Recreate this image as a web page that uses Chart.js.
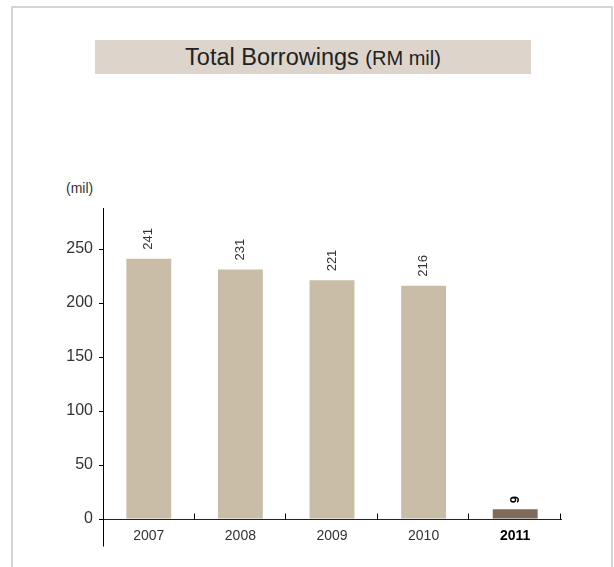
<!DOCTYPE html>
<html>
<head>
<meta charset="utf-8">
<script src="https://cdn.jsdelivr.net/npm/chart.js@4"></script>
<style>
  body { margin: 0; background: #fff; font-family: "Liberation Sans", Arial, sans-serif; }
  #wrap { position: relative; width: 614px; height: 567px; overflow: hidden; }
  #frame { position: absolute; left: 11px; top: 6px; width: 598px; height: 620px; border: 2px solid #d8d4ce; }
  #title { position: absolute; left: 95px; top: 40px; width: 436px; height: 34px; background: #ddd5cc;
           text-align: center; line-height: 34px; color: #222; font-size: 23.5px; }
  #title small { font-size: 20px; }
  #unit { position: absolute; left: 66px; top: 180px; font-size: 14px; color: #333; }
  #chart { position: absolute; left: 0; top: 0; }
</style>
</head>
<body>
<div id="wrap">
  <div id="frame"></div>
  <div id="title">Total Borrowings <small>(RM mil)</small></div>
  <div id="unit">(mil)</div>
  <canvas id="chart" width="614" height="567"></canvas>
</div>
<script>
const years = ['2007', '2008', '2009', '2010', '2011'];
const borrowings = [241, 231, 221, 216, 9];
const barColors = ['#c9bda8', '#c9bda8', '#c9bda8', '#c9bda8', '#7e6b5b'];
const yTicks = [0, 50, 100, 150, 200, 250];

const FONT = '"Liberation Sans", Arial, sans-serif';

// rotated value labels, upward boundary ticks, y axis stub below zero
const extras = {
    id: 'extras',
    afterDraw(chart) {
        const ctx = chart.ctx;
        const area = chart.chartArea;
        const xs = chart.scales.x;
        const ax = Math.floor(area.left) + 0.5;
        const by = Math.round(area.bottom) + 0.5;
        ctx.save();
        ctx.strokeStyle = '#000';
        ctx.lineWidth = 1;
        ctx.beginPath();
        ctx.moveTo(ax, by);
        ctx.lineTo(ax, by + 27);
        const half = (xs.getPixelForValue(1) - xs.getPixelForValue(0)) / 2;
        for (let i = 0; i < years.length; i++) {
            const bx = Math.round(xs.getPixelForValue(i) + half) - 0.5;
            ctx.moveTo(bx, by);
            ctx.lineTo(bx, by - 6);
        }
        ctx.stroke();

        const meta = chart.getDatasetMeta(0);
        meta.data.forEach((bar, i) => {
            const last = i === years.length - 1;
            ctx.save();
            ctx.translate(bar.x, bar.y - (last ? 6 : 9));
            ctx.rotate(-Math.PI / 2);
            ctx.textAlign = 'left';
            ctx.textBaseline = 'middle';
            ctx.fillStyle = last ? '#000' : '#333';
            ctx.font = (last ? 'bold ' : '') + '13px ' + FONT;
            ctx.fillText(String(borrowings[i]), 0, 0);
            ctx.restore();
        });
        ctx.restore();
    }
};

new Chart(document.getElementById('chart'), {
    type: 'bar',
    data: {
        labels: years,
        datasets: [{
            data: borrowings,
            backgroundColor: barColors,
            borderWidth: 0,
            barPercentage: 0.49,
            categoryPercentage: 1
        }]
    },
    options: {
        responsive: false,
        animation: false,
        layout: { padding: { top: 208, right: 53, bottom: 0, left: 0 } },
        plugins: { legend: { display: false }, tooltip: { enabled: false } },
        scales: {
            x: {
                grid: { drawOnChartArea: false, drawTicks: false },
                border: { display: true, color: '#222', width: 1 },
                ticks: {
                    padding: 9,
                    color: ctx => ctx.index === years.length - 1 ? '#000' : '#333',
                    font: ctx => ({ size: 14, family: FONT, weight: ctx.index === years.length - 1 ? 'bold' : 'normal' })
                },
                afterFit: s => { s.height = 48; }
            },
            y: {
                min: 0,
                max: 288,
                afterBuildTicks: s => { s.ticks = yTicks.map(v => ({ value: v })); },
                ticks: { padding: 6, color: '#333', font: { size: 16, family: FONT } },
                grid: { drawOnChartArea: false, drawTicks: true, tickLength: 4, color: '#000' },
                border: { display: true, color: '#000', width: 1 },
                afterFit: s => { s.width = 103; }
            }
        }
    },
    plugins: [extras]
});
</script>
</body>
</html>
